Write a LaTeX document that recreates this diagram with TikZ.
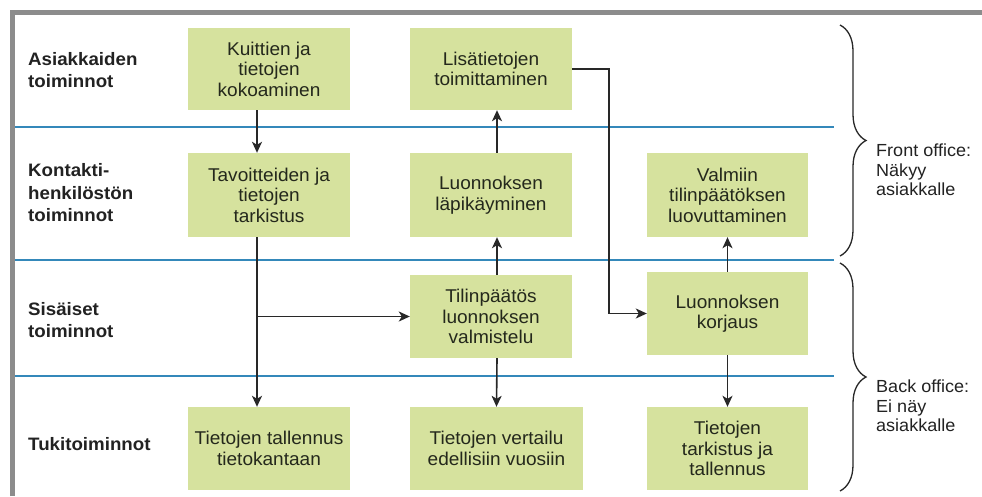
\documentclass[tikz,border=0pt]{standalone}
\usepackage{fontspec}
\setmainfont{Liberation Sans}
\newfontfamily\boxfont[FakeStretch=1.03]{Liberation Sans}
\newfontfamily\lanefont[FakeStretch=1.04]{Liberation Sans Bold}
\usepackage{tikz}
\usetikzlibrary{arrows.meta}
\usetikzlibrary{decorations.pathreplacing}
\usepackage{xcolor}

\definecolor{boxgreen}{RGB}{214,226,158}
\definecolor{laneblue}{RGB}{52,136,186}
\definecolor{framegray}{RGB}{140,140,140}
\definecolor{arrowgray}{RGB}{40,40,40}
\definecolor{boxtext}{RGB}{36,40,28}
\definecolor{lanetext}{RGB}{34,34,34}

\begin{document}
\begin{tikzpicture}[x=1pt, y=-1pt,
        box/.style={fill=boxgreen, minimum width=162pt, minimum height=83pt, inner sep=0pt,
            align=center, text=boxtext, font=\boxfont\fontsize{18.5}{20.5}\selectfont},
        lane/.style={anchor=west, align=left, inner sep=0pt, text=lanetext,
            font=\lanefont\fontsize{18}{22.5}\selectfont},
        office/.style={anchor=north west, align=left, inner sep=0pt, text=lanetext,
            font=\boxfont\fontsize{17.5}{19.5}\selectfont},
        sep/.style={draw=laneblue, line width=2.6pt},
        arr/.style={draw=arrowgray, line width=1.6pt, -{Stealth[length=11pt, width=10pt, inset=3pt]}},
        officebrace/.style={draw=arrowgray, line width=1.3pt, decorate,
            decoration={brace, amplitude=26pt}}]

        \useasboundingbox (0,0) rectangle (982,496);
        \fill[white] (0,0) rectangle (982,496);

        \draw[framegray, line width=4.5pt] (12.5,496) -- (12.5,12.5) -- (982,12.5);

        \draw[sep] (15,127) -- (834,127);
        \draw[sep] (15,260) -- (834,260);
        \draw[sep] (15,376) -- (834,376);

        \node[lane] (asiakkaat) at (28,70) {Asiakkaiden\\toiminnot};
        \node[lane] (kontakti) at (28,193) {Kontakti-\\henkilöstön\\toiminnot};
        \node[lane] (sisaiset) at (28,320) {Sisäiset\\toiminnot};
        \node[lane] (tuki) at (28,444) {Tukitoiminnot};

        \node[box, minimum height=82pt] (kuitti) at (269,69) {Kuittien ja\\tietojen\\kokoaminen};
        \node[box, minimum height=82pt] (lisatieto) at (491,69) {Lisätietojen\\toimittaminen};

        \node[box, minimum height=84pt] (tavoite) at (269,195) {Tavoitteiden ja\\tietojen\\tarkistus};
        \node[box, minimum height=84pt] (lapikaynti) at (491,195) {Luonnoksen\\läpikäyminen};
        \node[box, minimum height=84pt, minimum width=161pt] (valmis) at (727.5,195) {Valmiin\\tilinpäätöksen\\luovuttaminen};

        \node[box] (valmistelu) at (491,316.5) {Tilinpäätös\\luonnoksen\\valmistelu};
        \node[box, minimum width=161pt] (korjaus) at (727.5,313.5) {Luonnoksen\\korjaus};

        \node[box] (tallennus) at (269,448.5) {Tietojen tallennus\\tietokantaan};
        \node[box, minimum width=173pt] (vertailu) at (496.5,448.5) {Tietojen vertailu\\edellisiin vuosiin};
        \node[box, minimum width=161pt] (tarkistus) at (727.5,448.5) {Tietojen\\tarkistus ja\\tallennus};

        \draw[arr] ([xshift=-12pt]kuitti.south) -- ([xshift=-12pt]tavoite.north);

        \draw[arr] ([xshift=-12pt]tavoite.south) -- ([xshift=-12pt]tallennus.north);
        \draw[arr] ([xshift=-12pt]tavoite.south) |- (valmistelu.west);

        \draw[arr] ([xshift=6pt]valmistelu.north) -- ([xshift=6pt]lapikaynti.south);
        \draw[arr] ([xshift=6pt]lapikaynti.north) -- ([xshift=6pt]lisatieto.south);
        \draw[arr] ([xshift=6pt]valmistelu.south) -- (vertailu.north);

        \draw[arr] (lisatieto.east) -- ++(37,0) |- (korjaus.west);

        \draw[arr] (korjaus.north) -- (valmis.south);
        \draw[arr] (korjaus.south) -- (tarkistus.north);

        \coordinate (fronttop) at (840,25);
        \coordinate (frontbottom) at (840,256);
        \coordinate (backtop) at (840,263);
        \coordinate (backbottom) at (840,491);

        \draw[officebrace] (fronttop) -- (frontbottom);
        \draw[officebrace] (backtop) -- (backbottom);

        \node[office] (front) at (876,144) {Front office:\\Näkyy\\asiakkalle};
        \node[office] (back) at (876,380) {Back office:\\Ei näy\\asiakkalle};

\end{tikzpicture}
\end{document}
